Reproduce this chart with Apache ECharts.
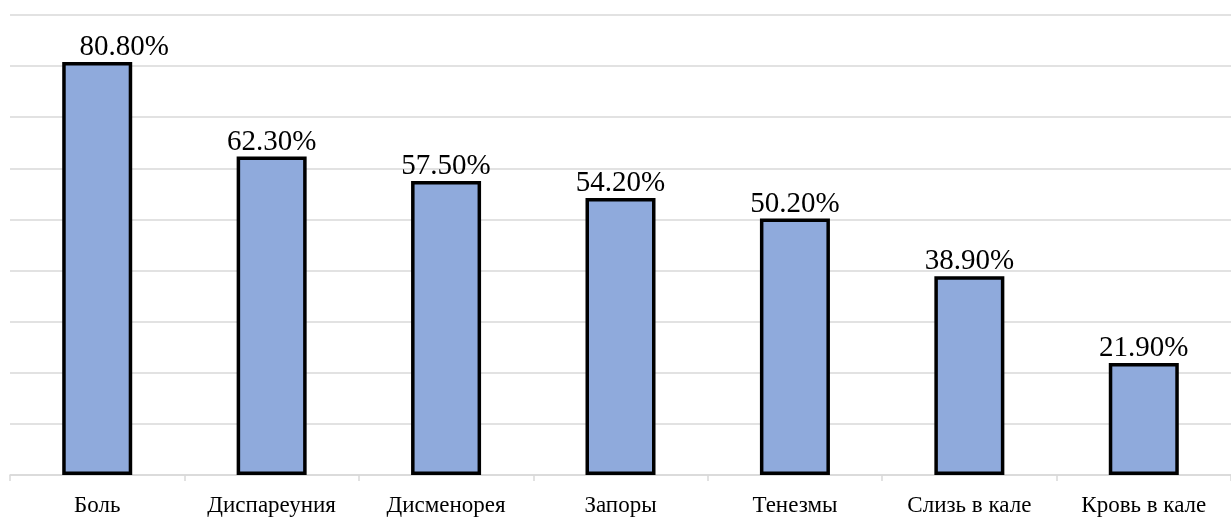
<!DOCTYPE html>
<html>
<head>
<meta charset="utf-8">
<script src="https://cdn.jsdelivr.net/npm/echarts@6/dist/echarts.min.js"></script>
<style>
  html, body { margin: 0; padding: 0; background: #ffffff; }
  #chart { width: 1231px; height: 517px; }
</style>
</head>
<body>
<div id="chart"></div>
<script>
// Symptom frequencies, percent
const categories = ['Боль', 'Диспареуния', 'Дисменорея', 'Запоры', 'Тенезмы', 'Слизь в кале', 'Кровь в кале'];
const values = [80.8, 62.3, 57.5, 54.2, 50.2, 38.9, 21.9];

const serif = '"Liberation Serif", "DejaVu Serif", serif';

// The first bar's label sits a little to the right of its bar
const seriesData = values.map((v, i) => i === 0 ? { value: v, label: { offset: [27, 0] } } : v);

const chart = echarts.init(document.getElementById('chart'), null, { renderer: 'canvas' });
chart.setOption({
  animation: false,
  backgroundColor: '#ffffff',
  grid: { left: 10, top: 15, width: 1230, height: 462, containLabel: false },
  xAxis: {
    type: 'category',
    data: categories,
    boundaryGap: true,
    axisLine: { show: true, lineStyle: { color: '#d9d9d9', width: 1.5 } },
    axisTick: { show: true, length: 6, alignWithLabel: false, lineStyle: { color: '#d9d9d9', width: 1.5 } },
    axisLabel: { color: '#000000', fontFamily: serif, fontSize: 23, margin: 19 }
  },
  yAxis: {
    type: 'value',
    min: 0,
    max: 90,
    interval: 10,
    axisLine: { show: false },
    axisTick: { show: false },
    axisLabel: { show: false },
    splitLine: { lineStyle: { color: '#d9d9d9', width: 1.5 } }
  },
  series: [{
    type: 'bar',
    data: seriesData,
    barWidth: 70,
    itemStyle: { color: '#8faadc', borderColor: '#000000', borderWidth: 3.5 },
    label: {
      show: true,
      position: 'top',
      distance: 0,
      color: '#000000',
      fontFamily: serif,
      fontSize: 29,
      formatter: p => p.value.toFixed(2) + '%'
    }
  }]
});
</script>
</body>
</html>
